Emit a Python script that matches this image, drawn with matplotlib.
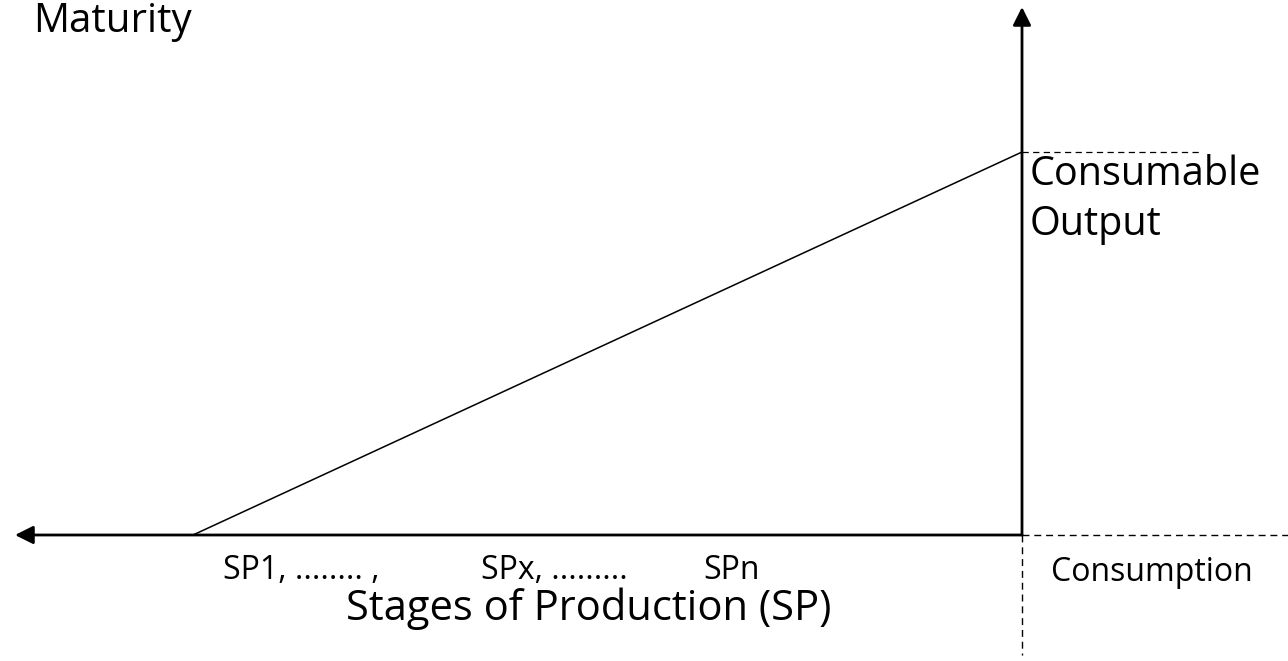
import matplotlib.pyplot as plt

plt.rcParams['font.family'] = ['Open Sans', 'DejaVu Sans']

# schematic values (pixel-like units, y grows downward)
stage_labels = ['SP1, ........ ,', 'SPx, .........', 'SPn']
stage_x = [223, 481, 703]
maturity_x = [193, 1022]
maturity_y = [535, 152]
origin = (1022, 535)

fig = plt.figure(figsize=(12.88, 6.61), dpi=100)
fig.subplots_adjust(left=0, right=1, bottom=0, top=1)
ax = fig.add_subplot()
ax.axis('off')
ax.set_xlim(0, 1288)
ax.set_ylim(661, 0)

ox, oy = origin
arrow = dict(arrowstyle='-|>,head_length=1.1,head_width=0.55', color='black', lw=2.0,
             shrinkA=0, shrinkB=0)
ax.annotate('', xy=(15, oy), xytext=(ox, oy), arrowprops=arrow)
ax.annotate('', xy=(ox, 7), xytext=(ox, oy), arrowprops=arrow)

# dashed guides
ax.plot([ox, 1288], [oy, oy], color='black', lw=1.0, ls=(0, (5, 3.5)))
ax.plot([ox, ox], [oy, 655], color='black', lw=1.0, ls=(0, (5, 3.5)))
ax.plot([ox, 1200], [maturity_y[1], maturity_y[1]], color='black', lw=0.9, ls=(0, (5, 3.5)))

# maturity line
ax.plot(maturity_x, maturity_y, color='black', lw=1.1)

ax.text(33, 32, 'Maturity', fontsize=29, va='baseline', ha='left')
ax.text(1030, 185, 'Consumable', fontsize=28.5, va='baseline', ha='left')
ax.text(1030, 235, 'Output', fontsize=28.5, va='baseline', ha='left')
ax.text(1051, 581, 'Consumption', fontsize=23, va='baseline', ha='left')
for lab, x in zip(stage_labels, stage_x):
    ax.text(x, 579, lab, fontsize=23, va='baseline', ha='left')
ax.text(589, 620, 'Stages of Production (SP)', fontsize=30, va='baseline', ha='center')

fig.savefig('out.png')
